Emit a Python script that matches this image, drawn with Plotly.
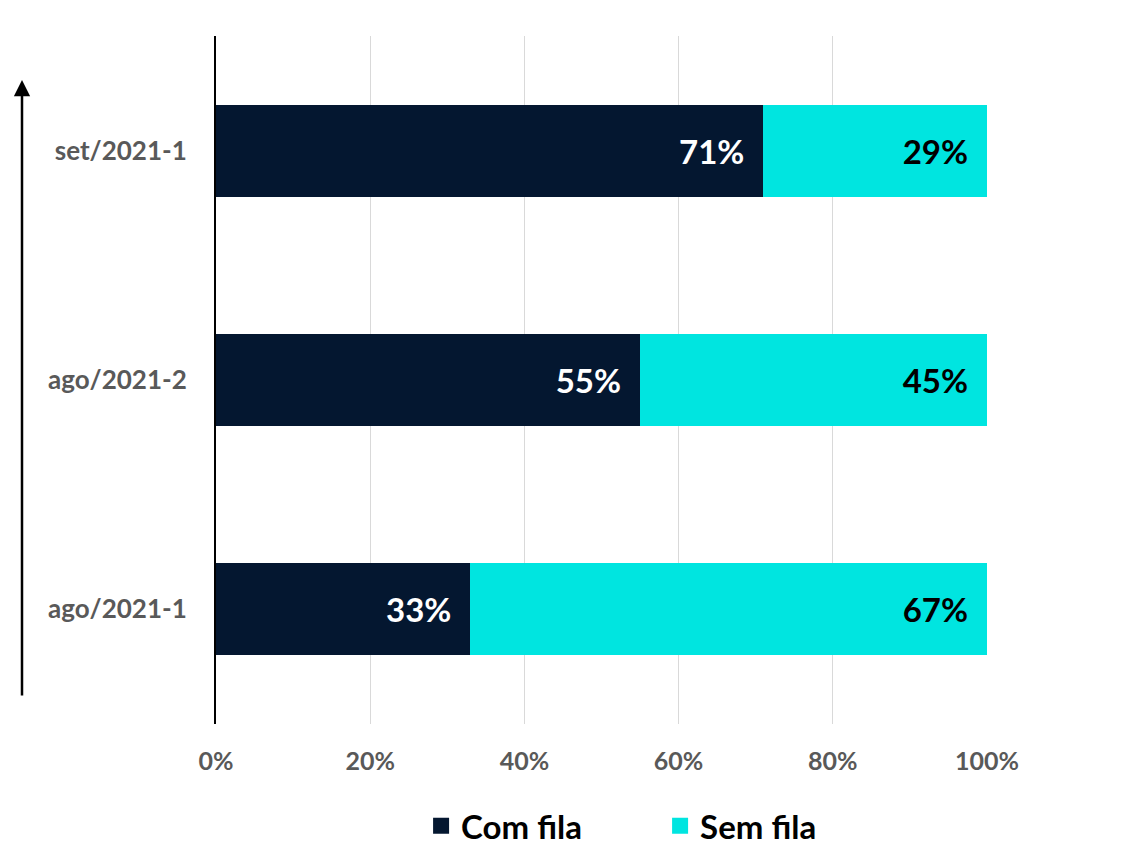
import plotly.graph_objects as go

categories = ["ago/2021-1", "ago/2021-2", "set/2021-1"]
com_fila = [33, 55, 71]
sem_fila = [67, 45, 29]
tick_vals = [0, 20, 40, 60, 80, 100]
tick_text = ["0%", "20%", "40%", "60%", "80%", "100%"]

DARK = "#041730"
CYAN = "#00E5E0"
FONT = "Lato, 'Open Sans', sans-serif"
PAD = "\u00a0\u00a0"

fig = go.Figure()
fig.add_trace(go.Bar(
    y=categories, x=com_fila, orientation="h", name="Com fila",
    marker=dict(color=DARK, line=dict(width=0)),
    text=[f"{v}%{PAD}" for v in com_fila], textposition="inside", insidetextanchor="end",
    textfont=dict(color="white", size=33, family=FONT, weight="bold"),
    showlegend=False, hoverinfo="skip",
))
fig.add_trace(go.Bar(
    y=categories, x=sem_fila, orientation="h", name="Sem fila",
    marker=dict(color=CYAN, line=dict(width=0)),
    text=[f"{v}%{PAD}" for v in sem_fila], textposition="inside", insidetextanchor="end",
    textfont=dict(color="black", size=33, family=FONT, weight="bold"),
    showlegend=False, hoverinfo="skip",
))
# legend entries
for nm, col in [("Com fila", DARK), ("Sem fila", CYAN)]:
    fig.add_trace(go.Scatter(
        x=[None], y=[None], mode="markers", name=nm,
        marker=dict(symbol="square", size=20, color=col),
    ))

fig.update_layout(
    barmode="stack",
    bargap=0.6,
    width=1133, height=846,
    margin=dict(l=216, r=146, t=36, b=122, autoexpand=False),
    paper_bgcolor="white", plot_bgcolor="white",
    font=dict(family=FONT),
    uniformtext=dict(mode=False),
    xaxis=dict(
        range=[0, 100], tickvals=tick_vals, ticktext=tick_text,
        showgrid=True, gridcolor="#d9d9d9", gridwidth=1,
        zeroline=False, showline=False, ticks="",
        tickfont=dict(size=25, color="#595959", family=FONT, weight="bold"),
        ticklabelstandoff=20, fixedrange=True, automargin=False,
    ),
    yaxis=dict(
        categoryorder="array", categoryarray=categories,
        range=[-0.5, 2.5],
        showline=True, linecolor="black", linewidth=2,
        showgrid=False, ticks="", automargin=False, fixedrange=True,
        tickfont=dict(size=26, color="#595959", family=FONT, weight="bold"),
        ticklabelstandoff=22,
    ),
    legend=dict(
        orientation="h", x=0.266, xanchor="left", y=-0.148, yanchor="middle",
        traceorder="normal",
        font=dict(size=33, color="black", family=FONT, weight="bold"),
        entrywidth=194, entrywidthmode="pixels",
        itemclick=False, itemdoubleclick=False,
    ),
    showlegend=True,
)

# upward arrow on the left
fig.add_annotation(
    xref="paper", yref="paper", x=(22 - 216) / 771, y=(724 - 80) / 688,
    axref="pixel", ayref="pixel", ax=0, ay=617,
    showarrow=True, arrowhead=2, arrowsize=1.3, arrowwidth=2.5, arrowcolor="black",
    text="",
)

fig.write_html(
    "out.html",
    config={"displayModeBar": False},
    post_script="document.body.style.margin='0';document.body.style.overflow='hidden';",
)
